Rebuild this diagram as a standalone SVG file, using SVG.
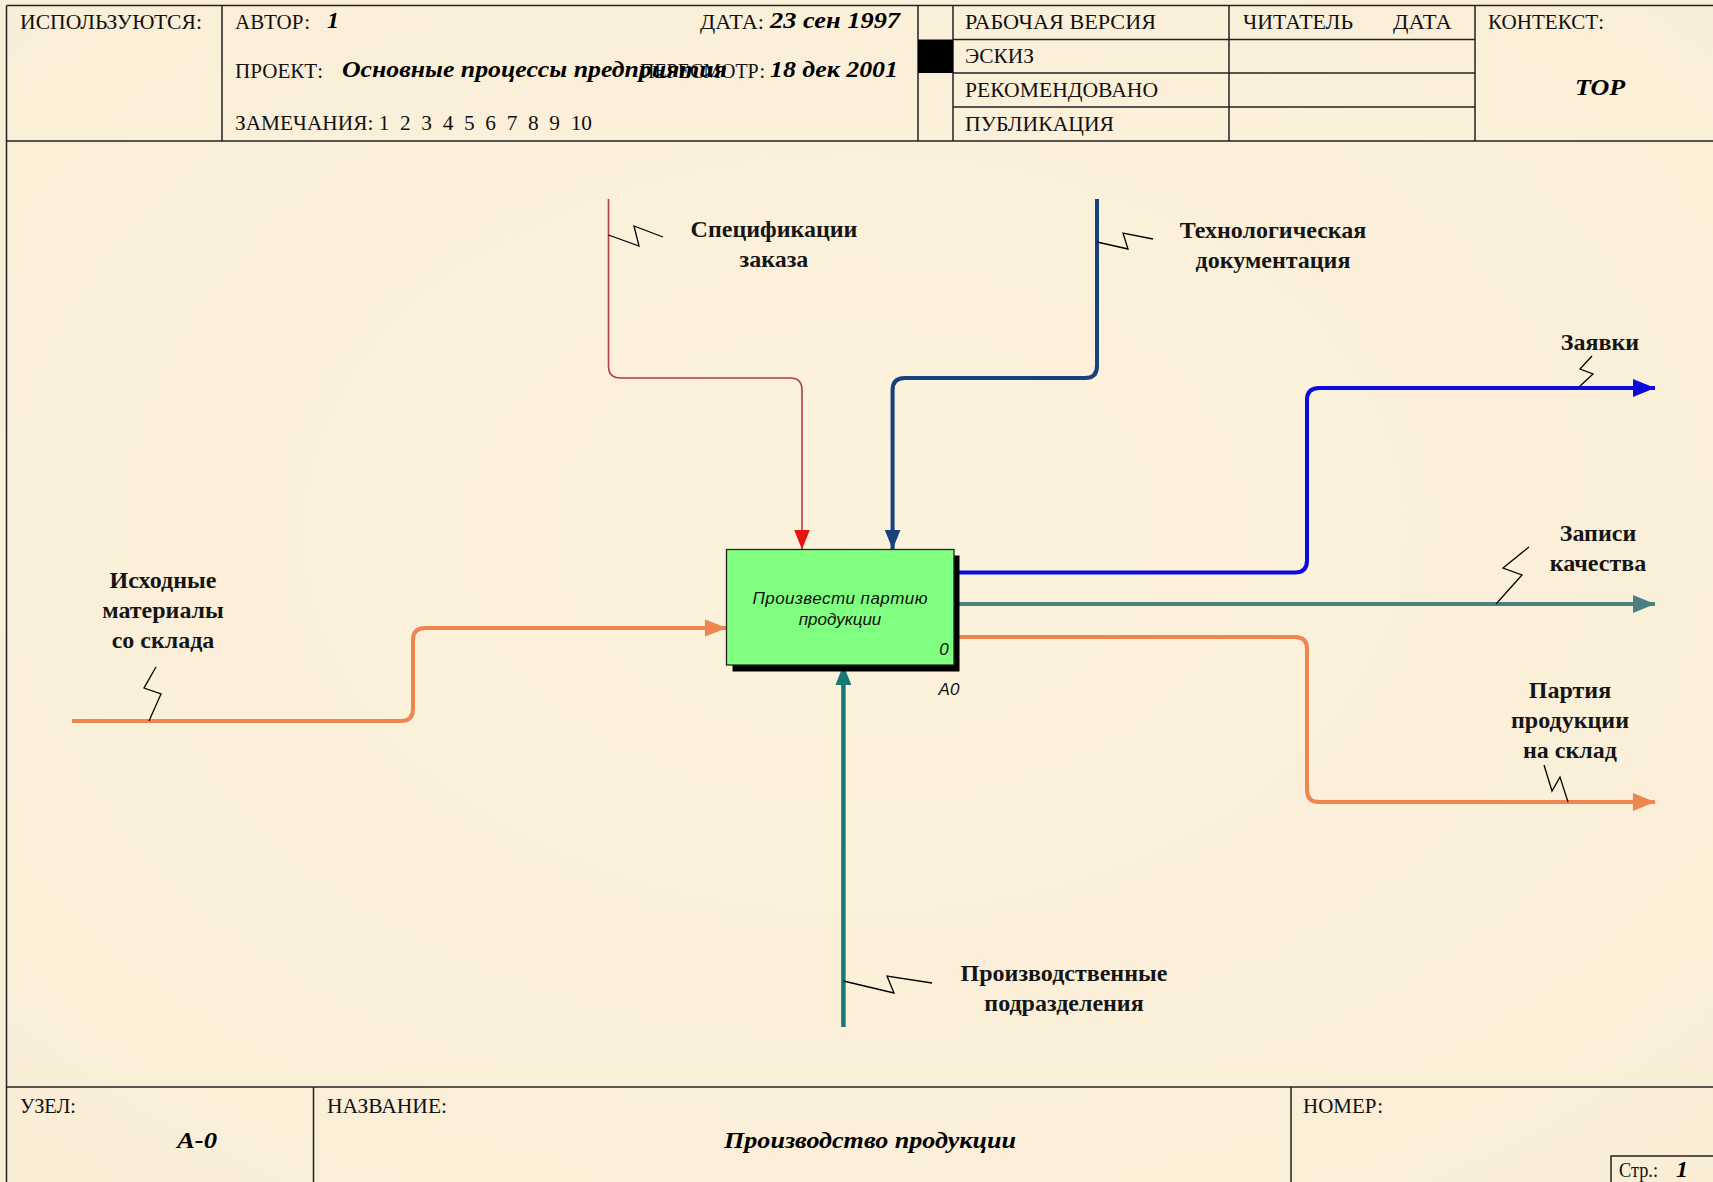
<svg xmlns="http://www.w3.org/2000/svg" width="1713" height="1182" viewBox="0 0 1713 1182">
<style>
.frame{fill:none;stroke:#222;stroke-width:1.5}
.hd{font-family:"Liberation Serif",serif;font-size:22px;fill:#111}
.hv{font-family:"Liberation Serif",serif;font-size:24px;font-weight:bold;font-style:italic;fill:#000}
.lbl{font-family:"Liberation Serif",serif;font-size:24px;font-weight:bold;fill:#151515;text-anchor:middle}
.sq{fill:none;stroke:#000;stroke-width:1.3}
.ar{fill:none;stroke-linejoin:round}
.box{font-family:"Liberation Sans",Arial,sans-serif;font-style:italic;fill:#111}
</style>
<defs>
<marker id="mk-red" markerUnits="userSpaceOnUse" markerWidth="20" markerHeight="16" refX="20" refY="8" orient="auto" viewBox="0 0 20 16"><path d="M0,0 L20,8 L0,16 Z" fill="#E81414"/></marker>
<marker id="mk-navy" markerUnits="userSpaceOnUse" markerWidth="20" markerHeight="16" refX="20" refY="8" orient="auto" viewBox="0 0 20 16"><path d="M0,0 L20,8 L0,16 Z" fill="#17427F"/></marker>
<marker id="mk-orange" markerUnits="userSpaceOnUse" markerWidth="22" markerHeight="18" refX="22" refY="9" orient="auto" viewBox="0 0 22 18"><path d="M0,0 L22,9 L0,18 Z" fill="#EE8650"/></marker>
<marker id="mk-teal" markerUnits="userSpaceOnUse" markerWidth="20" markerHeight="16" refX="20" refY="8" orient="auto" viewBox="0 0 20 16"><path d="M0,0 L20,8 L0,16 Z" fill="#1A7878"/></marker>
<marker id="mk-blue" markerUnits="userSpaceOnUse" markerWidth="22" markerHeight="18" refX="22" refY="9" orient="auto" viewBox="0 0 22 18"><path d="M0,0 L22,9 L0,18 Z" fill="#0B0BE0"/></marker>
<marker id="mk-gray" markerUnits="userSpaceOnUse" markerWidth="22" markerHeight="18" refX="22" refY="9" orient="auto" viewBox="0 0 22 18"><path d="M0,0 L22,9 L0,18 Z" fill="#4A8080"/></marker>
<radialGradient id="bg" cx="0.5" cy="0.45" r="0.8"><stop offset="0" stop-color="#FDF2DC"/><stop offset="1" stop-color="#F9EDD6"/></radialGradient>
</defs>
<rect x="0" y="0" width="1713" height="1182" fill="url(#bg)"/>

<g id="header">
<line class="frame" x1="6.5" y1="5.5" x2="1713" y2="5.5"/>
<line class="frame" x1="6.5" y1="5.5" x2="6.5" y2="1182"/>
<line class="frame" x1="6.5" y1="141" x2="1713" y2="141"/>
<line class="frame" x1="222" y1="5.5" x2="222" y2="141"/>
<line class="frame" x1="918" y1="5.5" x2="918" y2="141"/>
<line class="frame" x1="953" y1="5.5" x2="953" y2="141"/>
<line class="frame" x1="1229" y1="5.5" x2="1229" y2="141"/>
<line class="frame" x1="1475" y1="5.5" x2="1475" y2="141"/>
<line class="frame" x1="953" y1="39.5" x2="1475" y2="39.5"/>
<line class="frame" x1="953" y1="73" x2="1475" y2="73"/>
<line class="frame" x1="953" y1="107" x2="1475" y2="107"/>
<rect x="918" y="39.5" width="35" height="33.5" fill="#000"/>
<text class="hd" x="20" y="29" textLength="182" lengthAdjust="spacingAndGlyphs">ИСПОЛЬЗУЮТСЯ:</text>
<text class="hd" x="235" y="29" textLength="75" lengthAdjust="spacingAndGlyphs">АВТОР:</text>
<text class="hv" x="327" y="28">1</text>
<text class="hd" x="700" y="29" textLength="64" lengthAdjust="spacingAndGlyphs">ДАТА:</text>
<text class="hv" x="770" y="28" textLength="130" lengthAdjust="spacingAndGlyphs">23 сен 1997</text>
<text class="hd" x="235" y="78" textLength="88" lengthAdjust="spacingAndGlyphs">ПРОЕКТ:</text>
<text class="hd" x="640" y="78" textLength="125" lengthAdjust="spacingAndGlyphs">ПЕРЕСМОТР:</text>
<text class="hv" x="342" y="77" textLength="385" lengthAdjust="spacingAndGlyphs">Основные процессы предприятия</text>
<text class="hv" x="770" y="77" textLength="128" lengthAdjust="spacingAndGlyphs">18 дек 2001</text>
<text class="hd" x="235" y="130" textLength="357" lengthAdjust="spacingAndGlyphs" xml:space="preserve" style="white-space:pre">ЗАМЕЧАНИЯ: 1  2  3  4  5  6  7  8  9  10</text>
<text class="hd" x="965" y="29" textLength="191" lengthAdjust="spacingAndGlyphs">РАБОЧАЯ ВЕРСИЯ</text>
<text class="hd" x="965" y="63" textLength="69" lengthAdjust="spacingAndGlyphs">ЭСКИЗ</text>
<text class="hd" x="965" y="97" textLength="193" lengthAdjust="spacingAndGlyphs">РЕКОМЕНДОВАНО</text>
<text class="hd" x="965" y="131" textLength="149" lengthAdjust="spacingAndGlyphs">ПУБЛИКАЦИЯ</text>
<text class="hd" x="1243" y="29" textLength="110" lengthAdjust="spacingAndGlyphs">ЧИТАТЕЛЬ</text>
<text class="hd" x="1393" y="29" textLength="59" lengthAdjust="spacingAndGlyphs">ДАТА</text>
<text class="hd" x="1488" y="29" textLength="116" lengthAdjust="spacingAndGlyphs">КОНТЕКСТ:</text>
<text class="hv" x="1575" y="95" textLength="50" lengthAdjust="spacingAndGlyphs" font-size="26">TOP</text>
</g>

<g id="footer">
<line class="frame" x1="6.5" y1="1087" x2="1713" y2="1087"/>
<line class="frame" x1="313.5" y1="1087" x2="313.5" y2="1182"/>
<line class="frame" x1="1291" y1="1087" x2="1291" y2="1182"/>
<polyline class="frame" points="1611,1182 1611,1156 1713,1156"/>
<text class="hd" x="20" y="1113" textLength="56" lengthAdjust="spacingAndGlyphs">УЗЕЛ:</text>
<text class="hv" x="177" y="1148" textLength="40" lengthAdjust="spacingAndGlyphs" font-size="26">А-0</text>
<text class="hd" x="327" y="1113" textLength="120" lengthAdjust="spacingAndGlyphs">НАЗВАНИЕ:</text>
<text class="hv" x="724" y="1148" font-size="26" textLength="292" lengthAdjust="spacingAndGlyphs">Производство продукции</text>
<text class="hd" x="1303" y="1113" textLength="80" lengthAdjust="spacingAndGlyphs">НОМЕР:</text>
<text class="hd" x="1619" y="1177" textLength="39" lengthAdjust="spacingAndGlyphs">Стр.:</text>
<text class="hv" x="1676" y="1177">1</text>
</g>

<g id="connectors">
<path class="ar" d="M608.5,199 V366 Q608.5,378 620.5,378 H790 Q802,378 802,390 V549.5" stroke="#B04040" stroke-width="1.6" marker-end="url(#mk-red)"/>
<path class="ar" d="M1097,199 V366 Q1097,378 1085,378 H904.6 Q892.6,378 892.6,390 V549.5" stroke="#17427F" stroke-width="4" marker-end="url(#mk-navy)"/>
<path class="ar" d="M72,721 H401 Q413,721 413,709 V640 Q413,628 425,628 H726.5" stroke="#EE8650" stroke-width="4" marker-end="url(#mk-orange)"/>
<path class="ar" d="M843.4,1027 V665" stroke="#1A7878" stroke-width="4.5" marker-end="url(#mk-teal)"/>
<path class="ar" d="M958,572.5 H1295 Q1307,572.5 1307,560.5 V400 Q1307,388 1319,388 H1655" stroke="#0B0BE0" stroke-width="4" marker-end="url(#mk-blue)"/>
<path class="ar" d="M958,604 H1655" stroke="#4A8080" stroke-width="4" marker-end="url(#mk-gray)"/>
<path class="ar" d="M958,637 H1295 Q1307,637 1307,649 V790 Q1307,802 1319,802 H1655" stroke="#EE8650" stroke-width="4" marker-end="url(#mk-orange)"/>
<polyline class="sq" points="608.5,235 639,246 634,226 663,237"/>
<polyline class="sq" points="1097,242 1128,249 1123,233 1153,239"/>
<polyline class="sq" points="149,721 161,694 144,688 156,667"/>
<polyline class="sq" points="843.4,981 894,993 887,976 932,983"/>
<polyline class="sq" points="1579,387 1593,374 1580,369 1592,356"/>
<polyline class="sq" points="1496,604 1522,575 1503,568 1529,547"/>
<polyline class="sq" points="1568,802 1560,777 1552,791 1544,765"/>
<text class="lbl" x="774" y="237">Спецификации</text>
<text class="lbl" x="774" y="267">заказа</text>
<text class="lbl" x="1273" y="238">Технологическая</text>
<text class="lbl" x="1273" y="268">документация</text>
<text class="lbl" x="163" y="588">Исходные</text>
<text class="lbl" x="163" y="618">материалы</text>
<text class="lbl" x="163" y="648">со склада</text>
<text class="lbl" x="1064" y="981">Производственные</text>
<text class="lbl" x="1064" y="1011">подразделения</text>
<text class="lbl" x="1600" y="350">Заявки</text>
<text class="lbl" x="1598" y="541">Записи</text>
<text class="lbl" x="1598" y="571">качества</text>
<text class="lbl" x="1570" y="698">Партия</text>
<text class="lbl" x="1570" y="728">продукции</text>
<text class="lbl" x="1570" y="758">на склад</text>
</g>

<g id="node-A0">
<rect x="732.5" y="555.5" width="227" height="116" fill="#000"/>
<rect x="726.5" y="549.5" width="227.5" height="115.5" fill="#80FF80" stroke="#222" stroke-width="1.3"/>
<text class="box" x="840" y="604" text-anchor="middle" font-size="17" textLength="175">Произвести партию</text>
<text class="box" x="840" y="625" text-anchor="middle" font-size="17">продукции</text>
<text class="box" x="944" y="655" text-anchor="middle" font-size="17">0</text>
<text class="box" x="949" y="695" text-anchor="middle" font-size="17">A0</text>
</g>
</svg>
